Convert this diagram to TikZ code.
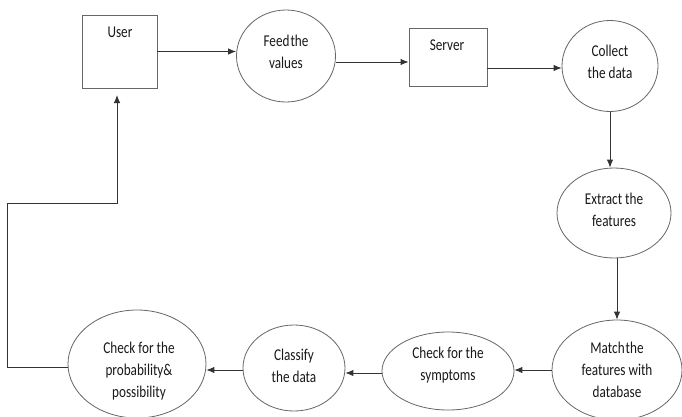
\documentclass[tikz,border=0pt]{standalone}
\usepackage{fontspec}
\setmainfont{Carlito}[FakeStretch=0.8]
\usetikzlibrary{arrows.meta,shapes.geometric}
\begin{document}
\begin{tikzpicture}[x=1pt,y=-1pt,
  txt/.style={font=\fontsize{16.5}{22}\selectfont, text=black!90, align=center, inner sep=0pt},
  box/.style={draw=black!60, line width=0.9pt, rectangle, inner sep=0pt},
  proc/.style={draw=black!60, line width=0.8pt, ellipse, inner sep=0pt},
  arr/.style={draw=black!80, line width=0.9pt, -{Latex[length=8pt,width=6.5pt]}},
  link/.style={draw=black!60, line width=0.9pt}]
  % canvas
  \fill[white] (0,0) rectangle (682,416);
  \useasboundingbox (0,0) rectangle (682,416);

  % rectangular entities
  \node[box, minimum width=75, minimum height=73] (user) at (119.5,51.5) {};
  \node[txt] at (120,32) {User};
  \node[box, minimum width=78, minimum height=58] (server) at (448,57) {};
  \node[txt] at (447,45) {Server};

  % processes
  \node[proc, minimum width=99, minimum height=92] (feed) at (286,56) {};
  \node[txt] at (286,52) {Feed\kern1pt the\\values};
  \node[proc, minimum width=96, minimum height=91] (collect) at (610,66) {};
  \node[txt] at (610,62) {Collect\\the data};
  \node[proc, minimum width=114, minimum height=90] (extract) at (614,213) {};
  \node[txt] at (614,210) {Extract the\\features};
  \node[proc, minimum width=130, minimum height=100] (match) at (617,370) {};
  \node[txt] at (617,370) {Match\kern1pt the\\features with\\database};
  \node[proc, minimum width=132, minimum height=78] (symp) at (448,371) {};
  \node[txt] at (448,365) {Check for the\\symptoms};
  \node[proc, minimum width=102, minimum height=86] (classify) at (294,368) {};
  \node[txt] at (294,366) {Classify\\the data};
  \node[proc, minimum width=138, minimum height=108] (prob) at (137,364) {};
  \node[txt] at (139,371) {Check for the\\probability\&\\possibility};

  % flow
  \draw[arr] (user.east) -- (user.east -| feed.west);
  \draw[arr] ([yshift=-6]feed.east) -- ([yshift=-6]feed.east -| server.west);
  \draw[arr] ([yshift=-11]server.east) -- ([yshift=-11]server.east -| collect.west);
  \draw[arr] (collect.south) -- (collect.south |- extract.north);
  \draw[arr] (match.north |- extract.south) -- (match.north);
  \draw[arr] (match.west) -- (match.west -| symp.east);
  \draw[arr] ([yshift=-2]symp.west) -- ([yshift=-2]symp.west -| classify.east);
  \draw[arr] ([yshift=-2]classify.west) -- ([yshift=-2]classify.west -| prob.east);

  % loop back to the user
  \coordinate (back) at (117,95);
  \draw[arr] ([yshift=-3]prob.west) -- ++(-60,0) |- (117,203) -- (back);
\end{tikzpicture}
\end{document}
